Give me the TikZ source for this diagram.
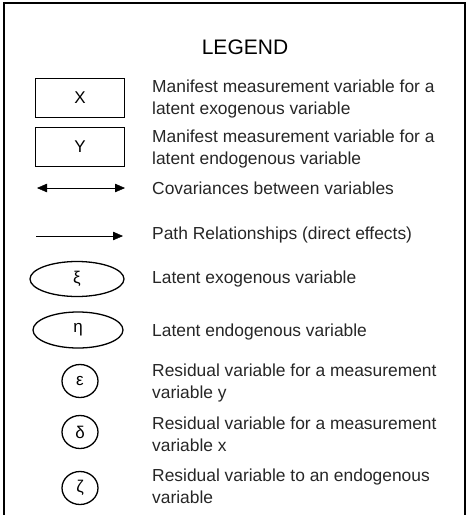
\documentclass[tikz,border=0pt]{standalone}
\usepackage{fontspec}
\setmainfont{Liberation Sans}
\usetikzlibrary{shapes}
\usetikzlibrary{positioning}
\usetikzlibrary{arrows.meta}
\definecolor{ink}{rgb}{0.15,0.15,0.15}

\begin{document}
\begin{tikzpicture}[x=1pt,y=-1pt,
	txt/.style={anchor=west,align=left,inner sep=0pt,text=ink,font=\fontsize{17.4}{22}\selectfont},
	var/.style={draw,line width=1.3pt,inner sep=0pt,font=\fontsize{17}{17}\selectfont},
	tip/.style={-{Triangle[length=10pt,width=8.5pt]}}]
			\useasboundingbox (0,0) rectangle (469,515);
			
			% frame, open at the bottom
			\draw[line width=1.3pt] (4,530) -- (4,3) -- (465,3) -- (465,530);
			\node[inner sep=0pt,font=\fontsize{21}{21}\selectfont] (t) at (245,47) {LEGEND};
			
			% symbols
			\node[var,line width=1.1pt,minimum width=89pt,minimum height=39pt] (x) at (80,98) {X};
			\node[var,line width=1.1pt,minimum width=89pt,minimum height=39pt] (y) at (80,147) {Y};
			\coordinate (ca) at (37,188);
			\coordinate (cb) at (125,188);
			\coordinate (pa) at (36,236);
			\coordinate (pb) at (123,236);
			\draw[{Triangle[length=10pt,width=8.5pt]}-{Triangle[length=10pt,width=8.5pt]}] (ca) -- (cb);
			\draw[tip] (pa) -- (pb);
			\node[var,ellipse,minimum width=94pt,minimum height=35pt] (xi) at (77,279) {ξ};
			\node[var,ellipse,minimum width=90pt,minimum height=36pt] (eta) at (78,330) {η};
			\node[var,ellipse,minimum width=36pt,minimum height=33pt] (eps) at (80,381) {ε};
			\node[var,ellipse,minimum width=36pt,minimum height=33pt] (del) at (80,432) {δ};
			\node[var,ellipse,minimum width=36pt,minimum height=33pt] (zeta) at (80,488) {ζ};
			
			% descriptions
			\node[txt] at (152,99) {Manifest measurement variable for a\\latent exogenous variable};
			\node[txt] at (152,149) {Manifest measurement variable for a\\latent endogenous variable};
			\node[txt] at (152,188) {Covariances between variables};
			\node[txt] at (152,235) {Path Relationships (direct effects)};
			\node[txt] at (152,279) {Latent exogenous variable};
			\node[txt] at (152,332) {Latent endogenous variable};
			\node[txt] at (152,383) {Residual variable for a measurement\\variable y};
			\node[txt] at (152,434) {Residual variable for a measurement\\variable x};
			\node[txt] at (152,486) {Residual variable to an endogenous\\variable};
		\end{tikzpicture}
\end{document}
